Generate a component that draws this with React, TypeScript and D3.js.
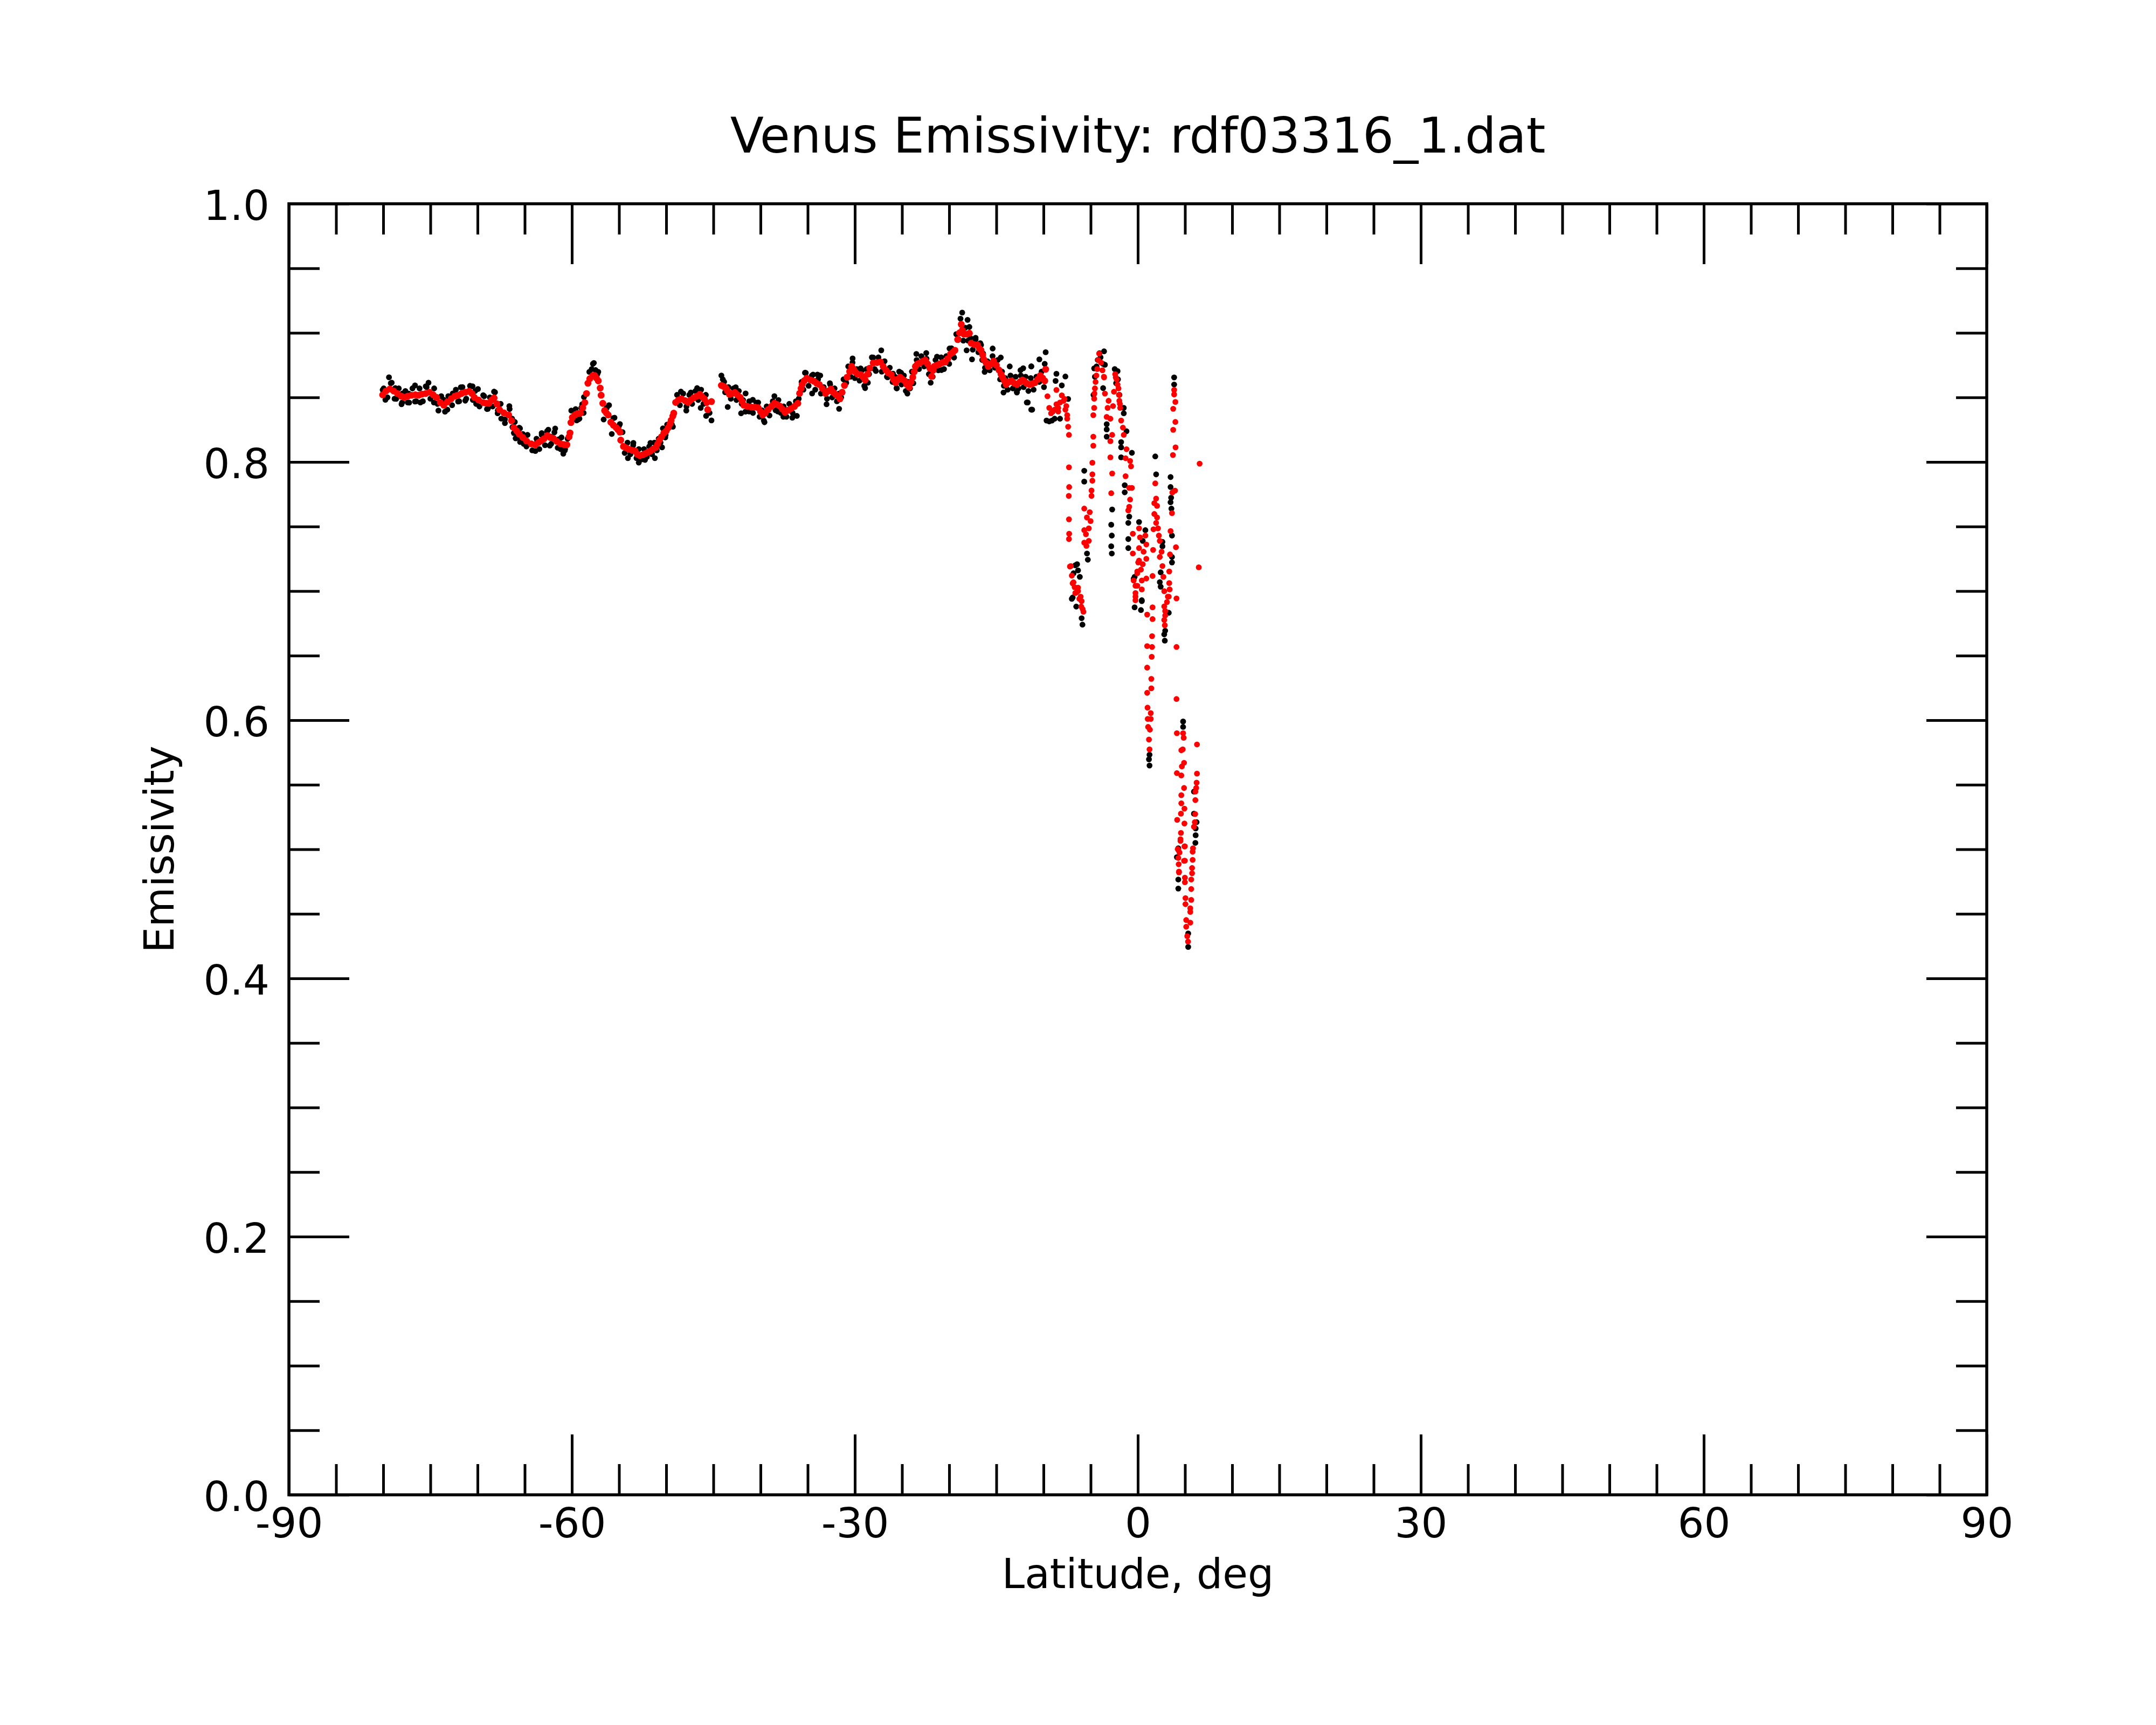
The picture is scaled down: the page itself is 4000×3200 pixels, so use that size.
import { useEffect, useRef } from 'react';
import * as d3 from 'd3';

type Pt = [number, number];

const title = 'Venus Emissivity: rdf03316_1.dat';
const xLabel = 'Latitude, deg';
const yLabel = 'Emissivity';
const xTicks = [-90, -60, -30, 0, 30, 60, 90];
const yTicks = [0, 0.2, 0.4, 0.6, 0.8, 1.0];
const xMinorTicks = [-85, -80, -75, -70, -65, -55, -50, -45, -40, -35, -25, -20, -15, -10, -5, 5, 10, 15, 20, 25, 35, 40, 45, 50, 55, 65, 70, 75, 80, 85];
const yMinorTicks = [0.05, 0.1, 0.15, 0.25, 0.3, 0.35, 0.45, 0.5, 0.55, 0.65, 0.7, 0.75, 0.85, 0.9, 0.95];

// raw samples (black), southern track: outliers
const blackSouth: Pt[] = [
  [-80.06, 0.8558], [-79.77, 0.8482], [-79.39, 0.8656], [-79.1, 0.8614], [-78.72, 0.8572], [-78.63, 0.8489],
  [-78.06, 0.8447], [-77.96, 0.8531], [-77.4, 0.8461], [-77.3, 0.853], [-76.63, 0.8593], [-76.63, 0.8468],
  [-76.06, 0.8461], [-75.49, 0.8586], [-75.2, 0.8614], [-74.63, 0.8461], [-74.15, 0.8398], [-73.58, 0.8482],
  [-73.2, 0.8405], [-72.63, 0.8531], [-72.06, 0.8468], [-71.77, 0.8579], [-71.3, 0.8475], [-70.53, 0.8586],
  [-70.15, 0.845], [-69.96, 0.8565], [-69.4, 0.8517], [-68.91, 0.8412], [-68.25, 0.8545], [-67.87, 0.8377],
  [-67.49, 0.8336], [-67.1, 0.8301], [-66.63, 0.8433], [-66.34, 0.8336], [-66.15, 0.8224], [-65.96, 0.8183],
  [-65.58, 0.8266], [-65.49, 0.8155], [-65.2, 0.8217], [-64.82, 0.812], [-63.87, 0.8085], [-63.68, 0.8155],
  [-63.2, 0.8224], [-62.63, 0.8238], [-62.34, 0.8127], [-62.25, 0.8197], [-61.77, 0.8259], [-61.39, 0.8176],
  [-61.2, 0.8099], [-60.91, 0.8064], [-60.72, 0.8099], [-60.06, 0.8398], [-59.49, 0.8322], [-59.2, 0.8336],
  [-58.91, 0.8447], [-58.72, 0.8503], [-58.15, 0.8698], [-57.77, 0.876], [-57.49, 0.8712],
  [-57.67, 0.8767], [-57.2, 0.8698], [-56.63, 0.8329], [-56.06, 0.844], [-55.77, 0.8217], [-55.48, 0.8343],
  [-54.91, 0.8294], [-54.63, 0.8231], [-54.06, 0.803], [-53.48, 0.8148], [-52.91, 0.7995], [-52.25, 0.8016],
  [-51.67, 0.8148], [-51.2, 0.803], [-50.44, 0.8113], [-50.06, 0.821], [-49.29, 0.8273], [-48.44, 0.8545],
  [-47.87, 0.8398], [-47.39, 0.8538], [-46.72, 0.8572], [-46.34, 0.8419], [-45.77, 0.8357], [-45.2, 0.8322],
  [-44.15, 0.867], [-43.86, 0.8621], [-43.48, 0.8426], [-42.63, 0.8579], [-42.06, 0.8377], [-41.58, 0.8531],
  [-41.2, 0.8391], [-40.82, 0.8482], [-40.25, 0.8461], [-39.58, 0.8308], [-38.53, 0.851], [-38.15, 0.8391],
  [-37.58, 0.835], [-36.63, 0.8343], [-36.15, 0.8357], [-35.29, 0.8691], [-34.53, 0.8531], [-33.96, 0.8677],
  [-34.43, 0.8677], [-33.67, 0.867], [-33.0, 0.8447], [-32.62, 0.86], [-31.67, 0.8412], [-30.91, 0.8614],
  [-30.24, 0.8802], [-29.39, 0.8725], [-28.91, 0.8572], [-28.62, 0.8614], [-28.05, 0.8809], [-27.77, 0.8705],
  [-27.2, 0.8865], [-26.53, 0.8656], [-25.96, 0.8684], [-25.58, 0.8572], [-25.1, 0.8691], [-24.43, 0.853],
  [-23.48, 0.8837], [-22.43, 0.8844], [-21.96, 0.8614], [-21.29, 0.8816], [-20.82, 0.8712], [-19.96, 0.8879],
  [-19.48, 0.8809], [-18.62, 0.9157], [-18.15, 0.8865], [-18.05, 0.9101], [-17.86, 0.9046], [-17.58, 0.8795],
  [-17.2, 0.8962], [-16.62, 0.8906], [-16.24, 0.8698], [-15.39, 0.8879], [-14.53, 0.8809], [-14.24, 0.8538],
  [-13.58, 0.874], [-12.82, 0.8538], [-12.15, 0.8726], [-11.67, 0.8461], [-11.29, 0.874], [-11.2, 0.8405],
];

// raw samples (black), southern track: the band hugging the red curve
const blackBand: Pt[] = [
  [-79.95, 0.857], [-79.55, 0.85], [-79.2, 0.861], [-78.8, 0.849], [-78.35, 0.857], [-78.0, 0.846],
  [-77.65, 0.855], [-77.25, 0.846], [-76.9, 0.857], [-76.5, 0.847], [-76.15, 0.857], [-75.8, 0.847],
  [-75.4, 0.858], [-75.0, 0.849], [-74.6, 0.857], [-74.25, 0.845], [-73.85, 0.851], [-73.45, 0.839],
  [-73.1, 0.851], [-72.7, 0.844], [-72.3, 0.856], [-71.95, 0.847], [-71.6, 0.858], [-71.2, 0.849],
  [-70.8, 0.859], [-70.5, 0.848], [-70.25, 0.855], [-69.8, 0.843], [-69.3, 0.851], [-69.0, 0.841],
  [-68.7, 0.85], [-68.4, 0.843], [-68.15, 0.854], [-67.85, 0.84], [-67.55, 0.845], [-67.1, 0.833],
  [-66.6, 0.841], [-66.3, 0.827], [-66.05, 0.831], [-65.75, 0.819], [-65.5, 0.826], [-65.1, 0.814],
  [-64.7, 0.821], [-64.2, 0.809], [-63.75, 0.818], [-63.45, 0.81], [-63.2, 0.821], [-62.85, 0.813],
  [-62.5, 0.825], [-62.2, 0.814], [-61.85, 0.823], [-61.5, 0.811], [-61.1, 0.819], [-60.75, 0.809],
  [-60.45, 0.818], [-59.6, 0.841], [-59.3, 0.833], [-59.0, 0.842], [-58.75, 0.838], [-57.9, 0.872],
  [-57.3, 0.868], [-56.3, 0.842], [-55.6, 0.834], [-55.0, 0.828],
  [-54.4, 0.807], [-54.1, 0.815], [-53.8, 0.806], [-53.5, 0.813], [-53.15, 0.803], [-52.9, 0.81],
  [-52.6, 0.802], [-52.35, 0.81], [-52.05, 0.804], [-51.8, 0.812], [-51.5, 0.806], [-51.25, 0.815],
  [-51.0, 0.809], [-50.8, 0.818], [-50.6, 0.815], [-50.35, 0.826], [-50.1, 0.819], [-49.9, 0.829],
  [-49.4, 0.829], [-48.85, 0.852], [-48.55, 0.844], [-48.2, 0.853], [-47.85, 0.843], [-47.55, 0.852],
  [-47.25, 0.845], [-46.9, 0.855], [-46.6, 0.848], [-46.3, 0.856], [-46.05, 0.845], [-45.8, 0.852],
  [-45.4, 0.838],
  [-44.0, 0.864], [-43.75, 0.854], [-43.4, 0.858], [-43.15, 0.849], [-42.85, 0.857], [-42.55, 0.848],
  [-42.3, 0.855], [-42.0, 0.845], [-41.85, 0.848], [-41.6, 0.839], [-41.2, 0.847], [-40.8, 0.838],
  [-40.45, 0.846], [-40.1, 0.835], [-39.85, 0.84], [-39.65, 0.832], [-39.35, 0.843], [-39.05, 0.836],
  [-38.7, 0.847], [-38.4, 0.84], [-38.1, 0.848], [-37.85, 0.838], [-37.55, 0.843], [-37.25, 0.835],
  [-36.95, 0.845], [-36.6, 0.838], [-36.25, 0.847], [-35.95, 0.849], [-35.65, 0.862], [-35.45, 0.856],
  [-35.2, 0.869], [-34.9, 0.859], [-34.55, 0.867], [-34.2, 0.856], [-33.9, 0.864], [-33.6, 0.853],
  [-33.3, 0.858], [-32.95, 0.849], [-32.65, 0.861], [-32.4, 0.85], [-32.15, 0.857], [-31.9, 0.847],
  [-31.7, 0.853], [-31.45, 0.85], [-31.2, 0.864], [-30.95, 0.861], [-30.7, 0.874], [-30.45, 0.866],
  [-30.25, 0.877], [-30.0, 0.865], [-29.8, 0.872], [-29.5, 0.863], [-29.25, 0.871], [-29.0, 0.859],
  [-28.75, 0.872], [-28.5, 0.868], [-28.2, 0.881], [-27.9, 0.872], [-27.5, 0.881], [-27.15, 0.87],
  [-26.85, 0.878], [-26.6, 0.866], [-26.3, 0.873], [-26.0, 0.862], [-25.75, 0.866], [-25.55, 0.857],
  [-25.3, 0.87], [-25.05, 0.86], [-24.8, 0.867], [-24.6, 0.855], [-24.35, 0.862], [-24.15, 0.857],
  [-23.95, 0.87], [-23.8, 0.861], [-23.45, 0.879], [-23.2, 0.872], [-22.95, 0.882], [-22.65, 0.874],
  [-22.4, 0.88], [-22.15, 0.868], [-21.95, 0.87], [-21.75, 0.866], [-21.45, 0.879], [-21.15, 0.871],
  [-20.85, 0.881], [-20.55, 0.872], [-20.3, 0.882], [-20.0, 0.876], [-19.75, 0.888], [-19.5, 0.881],
  [-19.25, 0.899], [-19.0, 0.895], [-18.8, 0.911], [-18.5, 0.894], [-18.3, 0.904], [-18.0, 0.894],
  [-17.75, 0.896], [-17.5, 0.887], [-17.2, 0.895], [-16.9, 0.885], [-16.7, 0.892], [-16.5, 0.879],
  [-16.4, 0.884], [-16.2, 0.873], [-15.95, 0.878], [-15.7, 0.871], [-15.4, 0.882], [-15.15, 0.873],
  [-14.85, 0.879], [-14.6, 0.864], [-14.4, 0.87], [-14.2, 0.859], [-14.05, 0.865], [-13.8, 0.856],
  [-13.5, 0.867], [-13.25, 0.857], [-12.95, 0.866], [-12.65, 0.857], [-12.4, 0.867], [-12.1, 0.858],
  [-11.9, 0.866], [-11.6, 0.855], [-11.35, 0.865], [-11.05, 0.856], [-10.75, 0.866], [-10.45, 0.862],
  [-10.2, 0.87], [-9.95, 0.858],
];

// raw samples (black), near the equator
const blackEquator: Pt[] = [
  [-9.77, 0.885], [-10.44, 0.8795], [-9.87, 0.876], [-8.63, 0.8683], [-7.68, 0.8662], [-8.72, 0.8628],
  [-8.06, 0.8593], [-11.3, 0.8405], [-11.77, 0.8461], [-12.82, 0.8544], [-9.39, 0.8314], [-7.39, 0.8488],
  [-12.44, 0.8711], [-11.3, 0.874], [-9.1, 0.8321], [-8.25, 0.8335], [-9.68, 0.8321], [-8.82, 0.8335],
  [-4.06, 0.8843], [-3.58, 0.8857], [-3.49, 0.8753], [-3.68, 0.8572], [-4.63, 0.8725], [-3.3, 0.8293],
  [-4.55, 0.866], [-4.38, 0.874], [-4.25, 0.879], [-3.95, 0.881], [-3.7, 0.876], [-4.7, 0.852],
  [-2.45, 0.872], [-2.3, 0.861], [-2.1, 0.864], [-1.95, 0.852],
  [-3.3, 0.8252], [-3.3, 0.8196], [-2.72, 0.7632], [-2.82, 0.7514], [-2.76, 0.743], [-2.82, 0.7347],
  [-2.76, 0.7291], [-2.15, 0.8704], [-1.49, 0.8419], [-1.49, 0.8377], [-1.2, 0.8238], [-1.77, 0.8154],
  [-1.77, 0.8113], [-0.63, 0.8071], [-1.77, 0.8036], [-1.39, 0.782], [-1.39, 0.7765], [-0.91, 0.7577],
  [-1.01, 0.7528], [-1.01, 0.7403], [-1.01, 0.7333], [0.13, 0.7535], [-0.34, 0.711],
  [-5.68, 0.7932], [-5.68, 0.7848], [-5.39, 0.7291], [-5.3, 0.7243],
  [-6.44, 0.7208], [-6.82, 0.7138], [-6.15, 0.711], [-6.91, 0.695], [-6.63, 0.72], [-6.34, 0.716],
  [-7.0, 0.694], [-6.53, 0.688], [-5.96, 0.679], [-5.87, 0.674],
  [0.42, 0.6929], [-0.44, 0.7096], [0.8, 0.7472], [0.52, 0.7389], [-0.34, 0.6874], [0.33, 0.6853], [0.42, 0.6922],
  [1.85, 0.8043], [1.94, 0.7904], [2.61, 0.7381], [2.61, 0.7347], [2.42, 0.7145], [2.33, 0.7069], [2.42, 0.7034],
  [2.9, 0.6693], [2.8, 0.6665], [2.86, 0.6616], [3.28, 0.6832],
  [3.85, 0.8655], [3.85, 0.86], [3.47, 0.7883], [3.47, 0.7806], [3.53, 0.7723], [3.47, 0.7688],
  [3.56, 0.7639], [3.62, 0.743], [3.62, 0.7264], [3.62, 0.7222],
  [1.24, 0.5732], [1.18, 0.5697], [1.24, 0.5649],
  [4.8, 0.599], [4.8, 0.5948], [4.29, 0.5008], [4.14, 0.4939], [4.29, 0.4766], [4.29, 0.4696],
  [5.34, 0.4244], [5.34, 0.4348],
  [5.95, 0.5447], [5.95, 0.5276], [6.23, 0.521], [6.13, 0.5161], [6.13, 0.5109], [6.1, 0.505],
];

// smoothed samples (red), southern track
const redSouth: Pt[] = [
  [-80.06, 0.852], [-79.7, 0.855], [-79.3, 0.8565], [-78.9, 0.855], [-78.5, 0.853], [-78.1, 0.851],
  [-77.77, 0.85], [-77.4, 0.851], [-77.0, 0.8517], [-76.6, 0.852], [-76.25, 0.8517], [-75.9, 0.8525],
  [-75.5, 0.853], [-75.1, 0.854], [-74.7, 0.852], [-74.34, 0.85], [-73.95, 0.846], [-73.58, 0.844],
  [-73.2, 0.8465], [-72.8, 0.849], [-72.4, 0.851], [-72.06, 0.8517], [-71.7, 0.853], [-71.3, 0.854],
  [-70.9, 0.8547], [-70.6, 0.853], [-70.34, 0.85], [-69.9, 0.848], [-69.4, 0.846], [-69.1, 0.8455],
  [-68.8, 0.8454], [-68.5, 0.848], [-68.25, 0.8496], [-67.95, 0.845], [-67.68, 0.8405], [-67.2, 0.838],
  [-66.7, 0.8364], [-66.4, 0.832], [-66.15, 0.8266], [-65.85, 0.824], [-65.6, 0.8217], [-65.2, 0.819],
  [-64.8, 0.8162], [-64.3, 0.814], [-63.87, 0.8134], [-63.55, 0.815], [-63.3, 0.8162], [-62.95, 0.818],
  [-62.6, 0.8204], [-62.3, 0.819], [-61.96, 0.8183], [-61.6, 0.816], [-61.2, 0.8141], [-60.85, 0.8135],
  [-60.53, 0.8134], [-60.3, 0.8195], [-60.2, 0.8225], [-60.1, 0.8305], [-59.95, 0.8345], [-59.68, 0.8364],
  [-59.4, 0.8375], [-59.1, 0.8378], [-58.85, 0.842], [-58.63, 0.846], [-58.45, 0.853], [-58.3, 0.861],
  [-58.1, 0.8645], [-57.77, 0.867], [-57.58, 0.867], [-57.4, 0.865], [-57.2, 0.8628], [-57.0, 0.8572],
  [-56.9, 0.8517], [-56.72, 0.8454], [-56.53, 0.8398], [-56.35, 0.838], [-56.15, 0.8364], [-55.87, 0.8308],
  [-55.6, 0.8285], [-55.3, 0.8266], [-55.1, 0.825], [-54.9, 0.8231], [-54.82, 0.8169], [-54.53, 0.812],
  [-54.25, 0.811], [-53.96, 0.8099], [-53.6, 0.809], [-53.3, 0.8085], [-53.05, 0.806], [-52.8, 0.805],
  [-52.5, 0.8055], [-52.25, 0.8064], [-51.95, 0.8075], [-51.67, 0.8085], [-51.4, 0.81], [-51.1, 0.8113],
  [-50.9, 0.814], [-50.72, 0.8169], [-50.5, 0.8195], [-50.25, 0.8224], [-50.0, 0.824], [-49.77, 0.8266],
  [-49.6, 0.8295], [-49.48, 0.8322], [-49.3, 0.8355], [-49.2, 0.8378], [-49.0, 0.8461], [-48.7, 0.848],
  [-48.4, 0.8489], [-48.0, 0.8475], [-47.67, 0.8461], [-47.4, 0.848], [-47.1, 0.8496], [-46.75, 0.851],
  [-46.43, 0.8524], [-46.2, 0.8505], [-45.96, 0.8489], [-45.7, 0.846], [-45.6, 0.8405], [-45.2, 0.8468],
  [-44.15, 0.8593], [-43.9, 0.8585], [-43.67, 0.8572], [-43.5, 0.855], [-43.3, 0.8524], [-43.0, 0.853],
  [-42.72, 0.8538], [-42.45, 0.852], [-42.15, 0.85], [-41.95, 0.847], [-41.77, 0.844], [-41.4, 0.843],
  [-41.0, 0.8426], [-40.6, 0.8425], [-40.25, 0.842], [-40.0, 0.839], [-39.77, 0.8364], [-39.5, 0.838],
  [-39.2, 0.8405], [-38.85, 0.843], [-38.53, 0.8454], [-38.25, 0.8445], [-37.96, 0.8433], [-37.7, 0.841],
  [-37.4, 0.8384], [-37.1, 0.84], [-36.8, 0.8412], [-36.4, 0.843], [-36.05, 0.8454], [-35.86, 0.8531],
  [-35.7, 0.857], [-35.58, 0.86], [-35.35, 0.863], [-35.1, 0.8649], [-34.7, 0.8635], [-34.34, 0.8625],
  [-34.05, 0.861], [-33.77, 0.86], [-33.45, 0.857], [-33.1, 0.853], [-32.8, 0.855], [-32.53, 0.8565],
  [-32.3, 0.854], [-32.05, 0.8524], [-31.8, 0.851], [-31.58, 0.8489], [-31.35, 0.854], [-31.1, 0.8593],
  [-30.82, 0.8656], [-30.55, 0.87], [-30.34, 0.874], [-30.15, 0.872], [-29.96, 0.8698], [-29.7, 0.868],
  [-29.39, 0.8677], [-29.15, 0.866], [-28.91, 0.8635], [-28.65, 0.868], [-28.43, 0.8726], [-28.05, 0.8767],
  [-27.65, 0.877], [-27.29, 0.8774], [-27.0, 0.874], [-26.72, 0.8712], [-26.45, 0.869], [-26.15, 0.8677],
  [-25.9, 0.864], [-25.67, 0.8614], [-25.45, 0.864], [-25.2, 0.8656], [-24.95, 0.864], [-24.72, 0.8628],
  [-24.5, 0.86], [-24.24, 0.8579], [-24.05, 0.862], [-23.86, 0.8656], [-23.7, 0.87], [-23.58, 0.874],
  [-23.35, 0.876], [-23.1, 0.8767], [-22.8, 0.878], [-22.53, 0.8788], [-22.3, 0.876], [-22.05, 0.8726],
  [-21.86, 0.8663], [-21.7, 0.871], [-21.58, 0.874], [-21.3, 0.875], [-21.0, 0.876], [-20.7, 0.877],
  [-20.43, 0.8774], [-20.15, 0.88], [-19.86, 0.8837], [-19.6, 0.885], [-19.39, 0.8865], [-19.1, 0.8948],
  [-18.9, 0.9], [-18.72, 0.9066], [-18.6, 0.902], [-18.43, 0.899], [-18.15, 0.899], [-17.86, 0.8997],
  [-17.67, 0.892], [-17.35, 0.891], [-17.0, 0.8906], [-16.8, 0.888], [-16.62, 0.8865], [-16.45, 0.883],
  [-16.34, 0.8795], [-16.1, 0.877], [-15.86, 0.874], [-15.55, 0.876], [-15.29, 0.8781], [-15.0, 0.875],
  [-14.72, 0.8712], [-14.5, 0.868], [-14.34, 0.8656], [-14.15, 0.863], [-13.96, 0.86], [-13.65, 0.862],
  [-13.39, 0.8628], [-13.1, 0.861], [-12.82, 0.86], [-12.5, 0.862], [-12.24, 0.8635], [-12.06, 0.8628],
  [-11.8, 0.861], [-11.49, 0.86], [-11.2, 0.8605], [-10.91, 0.8614], [-10.6, 0.864], [-10.34, 0.867],
  [-10.1, 0.865], [-9.87, 0.8628], [-9.77, 0.8718],
];

// smoothed samples (red), near the equator
const redEquator: Pt[] = [
  [-9.58, 0.8509], [-9.39, 0.8419], [-9.2, 0.8377], [-9.01, 0.8391], [-8.82, 0.8405], [-8.63, 0.8558],
  [-8.63, 0.8447], [-8.44, 0.8419], [-8.44, 0.8391], [-8.25, 0.8461], [-8.06, 0.8516], [-7.87, 0.8474],
  [-7.77, 0.8488], [-7.68, 0.8405], [-7.58, 0.8433], [-7.49, 0.8363], [-7.49, 0.8335], [-7.39, 0.8273],
  [-7.3, 0.821], [-7.3, 0.7959], [-7.28, 0.7806], [-7.32, 0.7737], [-7.3, 0.7556], [-7.28, 0.7444], [-7.3, 0.7403],
  [-7.2, 0.719], [-7.1, 0.7194], [-7.0, 0.712], [-6.91, 0.706], [-6.82, 0.7068], [-6.7, 0.703], [-6.5, 0.699],
  [-6.34, 0.7027], [-6.34, 0.7], [-6.63, 0.6985], [-6.2, 0.694], [-6.06, 0.6957], [-6.0, 0.688], [-5.96, 0.6922],
  [-5.85, 0.686], [-5.77, 0.684],
  [-5.68, 0.7639], [-5.4, 0.757], [-5.1, 0.7611], [-5.01, 0.7542], [-5.2, 0.7486], [-5.68, 0.7472],
  [-5.5, 0.744], [-5.2, 0.7389], [-5.68, 0.7375], [-5.45, 0.735],
  [-4.91, 0.7737], [-4.91, 0.7779], [-4.82, 0.7855], [-4.82, 0.7904], [-4.82, 0.7994], [-4.72, 0.8126],
  [-4.72, 0.8196], [-4.72, 0.8363], [-4.63, 0.8419], [-4.63, 0.849], [-4.6, 0.853], [-4.55, 0.857],
  [-4.48, 0.862], [-4.4, 0.867], [-4.3, 0.872], [-4.2, 0.879], [-4.1, 0.884], [-3.9, 0.877], [-3.75, 0.871],
  [-3.6, 0.866], [-3.58, 0.8655],
  [-3.49, 0.853], [-3.1, 0.8474], [-3.2, 0.8419], [-2.63, 0.8433], [-3.3, 0.8349], [-2.91, 0.8335],
  [-2.72, 0.821], [-2.91, 0.8161], [-2.91, 0.8036], [-2.72, 0.7911], [-2.82, 0.7758],
  [-2.53, 0.8544], [-2.4, 0.868], [-2.34, 0.8655], [-2.25, 0.864], [-2.15, 0.86], [-2.05, 0.857], [-2.0, 0.852],
  [-1.96, 0.8474], [-1.9, 0.845], [-1.87, 0.8419], [-1.77, 0.8321], [-1.58, 0.8266], [-1.49, 0.821],
  [-1.2, 0.8099], [-1.3, 0.8029], [-0.82, 0.8008], [-0.72, 0.7966], [-1.3, 0.789], [-0.91, 0.7799],
  [-0.63, 0.7799], [-0.82, 0.7709], [-0.91, 0.7653], [-1.01, 0.7625],
  [0.13, 0.7486], [-0.53, 0.7444], [0.23, 0.7416], [0.8, 0.743], [0.9, 0.7361], [0.13, 0.7333], [0.61, 0.7305],
  [-0.53, 0.7291], [0.9, 0.725], [0.13, 0.7236], [0.04, 0.7222], [0.52, 0.7208], [0.33, 0.7166],
  [-0.06, 0.7152], [-0.06, 0.7138], [0.9, 0.7097], [-0.44, 0.7082], [0.42, 0.7082], [-0.06, 0.7041],
  [-0.25, 0.7041], [0.42, 0.7013], [-0.25, 0.6985], [-0.25, 0.6957], [-0.25, 0.6929],
  [0.99, 0.6818], [1.56, 0.6874], [1.56, 0.6783], [1.51, 0.6651], [0.99, 0.6574], [1.51, 0.6567],
  [1.47, 0.6491], [0.99, 0.6407], [1.43, 0.632], [1.43, 0.6247], [0.99, 0.6212], [1.03, 0.6097],
  [1.37, 0.6055], [1.05, 0.601], [1.37, 0.601], [1.09, 0.5948], [1.28, 0.5927], [1.18, 0.585], [1.24, 0.5774],
  [1.85, 0.7834], [1.94, 0.7716], [1.75, 0.7681], [2.04, 0.766], [1.75, 0.7597], [2.04, 0.757],
  [1.94, 0.7528], [1.66, 0.7479], [2.14, 0.7486], [2.23, 0.743], [2.33, 0.7389], [1.62, 0.7319],
  [2.52, 0.7305], [2.33, 0.7264], [2.61, 0.7194], [1.56, 0.7117], [2.71, 0.711], [2.8, 0.6999],
  [3.18, 0.6957], [3.09, 0.6915], [2.8, 0.6881], [2.9, 0.6846], [2.9, 0.6811], [2.8, 0.6776], [2.86, 0.6735],
  [3.85, 0.8558], [3.85, 0.8523], [3.98, 0.8465], [3.75, 0.8412], [3.98, 0.831], [3.75, 0.8249],
  [4.0, 0.8113], [3.72, 0.8054], [3.94, 0.7778], [3.66, 0.7764], [3.62, 0.7604], [3.47, 0.7465],
  [4.04, 0.734], [3.41, 0.7284], [3.33, 0.7152], [3.33, 0.7062], [3.37, 0.7013], [3.28, 0.6957],
  [4.1, 0.6943], [4.1, 0.6567], [4.1, 0.6164],
  [6.55, 0.7987], [6.46, 0.7184],
  [4.14, 0.5899], [4.8, 0.5899], [4.86, 0.5864], [4.76, 0.5774], [4.61, 0.5767], [4.9, 0.567],
  [4.67, 0.5642], [4.14, 0.559], [4.61, 0.5572], [4.9, 0.5475], [4.61, 0.5419], [4.61, 0.5356],
  [4.94, 0.5315], [4.57, 0.5276], [4.17, 0.5228], [4.94, 0.52], [4.57, 0.5127], [4.52, 0.5078],
  [4.52, 0.5065], [4.94, 0.5022], [4.99, 0.5023], [4.23, 0.5001], [4.29, 0.4995], [4.42, 0.4975],
  [4.29, 0.4933], [4.9, 0.4911], [4.99, 0.4912], [4.33, 0.4884], [4.36, 0.4827], [4.36, 0.4821],
  [4.99, 0.478], [4.99, 0.4745], [5.05, 0.4622], [5.05, 0.4575], [5.13, 0.4452], [5.13, 0.44],
  [5.24, 0.4327], [5.32, 0.4285],
  [6.27, 0.5812], [6.27, 0.5586], [6.23, 0.5516], [6.19, 0.5475], [6.1, 0.5447], [6.1, 0.5381],
  [6.08, 0.5273], [6.04, 0.521], [5.95, 0.5175], [5.85, 0.5008], [5.81, 0.4981], [5.81, 0.4918],
  [5.75, 0.4855], [5.75, 0.4814], [5.66, 0.4766], [5.66, 0.4692], [5.66, 0.4608], [5.56, 0.4543],
  [5.56, 0.4515], [5.56, 0.4432],
];

const FONT = '"DejaVu Sans", sans-serif';

export default function App() {
  const svgRef = useRef<SVGSVGElement | null>(null);

  useEffect(() => {
    const svgEl = svgRef.current;
    if (!svgEl) return;
    const svg = d3.select(svgEl);
    svg.selectAll('*').remove();

    const width = 4000;
    const height = 3200;
    const margin = { top: 378, right: 314, bottom: 427, left: 536 };
    const innerW = width - margin.left - margin.right;
    const innerH = height - margin.top - margin.bottom;

    svg.append('rect').attr('width', width).attr('height', height).attr('fill', '#fff');

    const g = svg
      .append('g')
      .attr('transform', `translate(${margin.left},${margin.top})`);

    const x = d3.scaleLinear().domain([-90, 90]).range([0, innerW]);
    const y = d3.scaleLinear().domain([0, 1]).range([innerH, 0]);

    const major = 112;
    const minor = 57;

    const styleAxis = (sel: d3.Selection<SVGGElement, unknown, null, undefined>) => {
      sel.select('.domain').remove();
      sel.selectAll('.tick line').attr('stroke', '#000').attr('stroke-width', 5);
    };

    // bottom
    g.append('g')
      .attr('transform', `translate(0,${innerH})`)
      .call(d3.axisBottom(x).tickValues(xMinorTicks).tickSize(-minor).tickFormat(() => ''))
      .call(styleAxis);
    const bottom = g
      .append('g')
      .attr('transform', `translate(0,${innerH})`)
      .call(
        d3
          .axisBottom(x)
          .tickValues(xTicks)
          .tickSize(-major)
          .tickFormat((d) => String(d)),
      )
      .call(styleAxis);
    bottom
      .selectAll('text')
      .attr('y', 79)
      .attr('dy', 0)
      .attr('fill', '#000')
      .attr('font-family', FONT)
      .attr('font-size', 77);

    // top
    g.append('g')
      .call(d3.axisTop(x).tickValues(xMinorTicks).tickSize(-minor).tickFormat(() => ''))
      .call(styleAxis);
    g.append('g')
      .call(d3.axisTop(x).tickValues(xTicks).tickSize(-major).tickFormat(() => ''))
      .call(styleAxis);

    // left
    g.append('g')
      .call(d3.axisLeft(y).tickValues(yMinorTicks).tickSize(-minor).tickFormat(() => ''))
      .call(styleAxis);
    const left = g
      .append('g')
      .call(
        d3
          .axisLeft(y)
          .tickValues(yTicks)
          .tickSize(-major)
          .tickFormat((d) => d3.format('.1f')(+d)),
      )
      .call(styleAxis);
    left
      .selectAll('text')
      .attr('x', -36)
      .attr('dy', 0)
      .attr('y', 29)
      .attr('fill', '#000')
      .attr('font-family', FONT)
      .attr('font-size', 77);

    // right
    g.append('g')
      .attr('transform', `translate(${innerW},0)`)
      .call(d3.axisRight(y).tickValues(yMinorTicks).tickSize(-minor).tickFormat(() => ''))
      .call(styleAxis);
    g.append('g')
      .attr('transform', `translate(${innerW},0)`)
      .call(d3.axisRight(y).tickValues(yTicks).tickSize(-major).tickFormat(() => ''))
      .call(styleAxis);

    // frame
    g.append('rect')
      .attr('width', innerW)
      .attr('height', innerH)
      .attr('fill', 'none')
      .attr('stroke', '#000')
      .attr('stroke-width', 5.5);

    const drawDots = (pts: Pt[], color: string, r: number) => {
      g.append('g')
        .selectAll('circle')
        .data(pts)
        .join('circle')
        .attr('cx', (d) => x(d[0]))
        .attr('cy', (d) => y(d[1]))
        .attr('r', r)
        .attr('fill', color);
    };

    drawDots(blackBand, '#000', 5.4);
    drawDots(blackSouth, '#000', 5.4);
    drawDots(blackEquator, '#000', 5.4);
    // the southern red track is dense enough to read as a solid ribbon
    drawDots(redSouth, '#ff0000', 6.4);
    drawDots(redEquator, '#ff0000', 5.4);

    svg
      .append('text')
      .attr('x', margin.left + innerW / 2)
      .attr('y', 283)
      .attr('text-anchor', 'middle')
      .attr('font-family', FONT)
      .attr('font-size', 91)
      .attr('fill', '#000')
      .text(title);

    svg
      .append('text')
      .attr('x', margin.left + innerW / 2)
      .attr('y', 2946)
      .attr('text-anchor', 'middle')
      .attr('font-family', FONT)
      .attr('font-size', 76)
      .attr('fill', '#000')
      .text(xLabel);

    svg
      .append('text')
      .attr('transform', `translate(322,${margin.top + innerH / 2}) rotate(-90)`)
      .attr('text-anchor', 'middle')
      .attr('font-family', FONT)
      .attr('font-size', 76)
      .attr('fill', '#000')
      .text(yLabel);
  }, []);

  return (
    <svg
      ref={svgRef}
      width={4000}
      height={3200}
      style={{ position: 'absolute', left: 0, top: 0, display: 'block' }}
    />
  );
}
